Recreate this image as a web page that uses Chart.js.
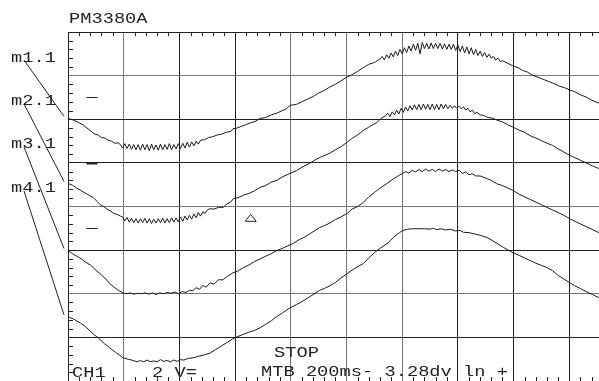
<!DOCTYPE html>
<html lang="en">
<head>
    <meta charset="UTF-8">
    <title>PM3380A</title>
    <style>
        body {
            margin: 0;
            background: #fff;
        }
        .screen {
            position: relative;
            width: 599px;
            height: 381px;
            overflow: hidden;
        }
        canvas {
            position: absolute;
            left: 0;
            top: 0;
        }
        .txt {
            position: absolute;
            font-family: "Liberation Mono", monospace;
            font-size: 14.5px;
            line-height: 14.5px;
            color: #222;
            white-space: pre;
            transform: scaleX(1.29); /* wide scope glyphs, ~11px per char */
            transform-origin: 0 0;
        }
    </style>
    <script src="https://cdn.jsdelivr.net/npm/chart.js"></script>
</head>
<body>
    <div class="screen">
        <canvas id="scope" width="640" height="400"></canvas>
        <div class="txt" style="left:69px; top:12px;">PM3380A</div>
        <div class="txt" style="left:11px; top:51px;">m1.1</div>
        <div class="txt" style="left:11px; top:94px;">m2.1</div>
        <div class="txt" style="left:11px; top:137px;">m3.1</div>
        <div class="txt" style="left:11px; top:181px;">m4.1</div>
        <div class="txt" style="left:274px; top:346px;">STOP</div>
        <div class="txt" style="left:72px; top:366px;">CH1</div>
        <div class="txt" style="left:152px; top:366px;">2 V=</div>
        <div class="txt" style="left:261px; top:365px;">MTB 200ms- 3.28dv ln +</div>
    </div>

    <script>
        // x in divisions (200 ms/div), y in divisions from screen centre
        const trace1 = [
            [0,2.02],[0.1,1.98],[0.2,1.92],[0.28,1.86],[0.36,1.78],[0.42,1.72],[0.48,1.66],[0.54,1.64],[0.6,1.58],[0.66,1.57],[0.72,1.52],[0.78,1.5],[0.84,1.45],[0.9,1.46],
            [0.94,1.42],[0.98,1.34],[1.02,1.44],[1.06,1.33],[1.1,1.43],[1.14,1.31],[1.18,1.42],[1.22,1.3],[1.26,1.42],[1.3,1.29],[1.34,1.43],[1.38,1.3],[1.42,1.42],[1.46,1.28],[1.5,1.43],[1.54,1.3],
            [1.58,1.41],[1.62,1.29],[1.66,1.43],[1.7,1.3],[1.74,1.42],[1.78,1.31],[1.82,1.44],[1.86,1.3],[1.9,1.42],[1.94,1.32],[1.98,1.44],[2.02,1.33],[2.06,1.45],[2.1,1.34],[2.14,1.47],[2.18,1.36],
            [2.22,1.48],[2.26,1.39],[2.3,1.5],[2.34,1.43],[2.38,1.52],[2.45,1.53],[2.52,1.58],[2.6,1.6],[2.68,1.64],[2.76,1.66],[2.84,1.7],[2.92,1.72],[2.96,1.78],[3.04,1.8],[3.12,1.84],[3.2,1.88],
            [3.28,1.92],[3.36,1.95],[3.45,2.02],[3.55,2.04],[3.65,2.1],[3.75,2.14],[3.85,2.2],[3.92,2.24],[3.99,2.32],[4.1,2.34],[4.2,2.4],[4.3,2.46],[4.4,2.52],[4.5,2.6],[4.6,2.66],[4.7,2.74],
            [4.8,2.8],[4.9,2.88],[5.01,2.97],[5.1,3.02],[5.2,3.1],[5.3,3.18],[5.4,3.26],[5.5,3.3],[5.6,3.38],
            [5.64,3.44],[5.68,3.36],[5.72,3.48],[5.76,3.4],[5.8,3.52],[5.84,3.43],[5.88,3.56],[5.92,3.46],[5.96,3.6],[6,3.5],[6.04,3.64],[6.08,3.53],[6.12,3.68],[6.16,3.56],[6.2,3.72],[6.24,3.58],
            [6.28,3.74],[6.32,3.5],[6.36,3.76],[6.4,3.62],[6.44,3.74],[6.48,3.61],[6.52,3.75],[6.56,3.62],[6.6,3.74],[6.64,3.62],[6.68,3.74],[6.72,3.61],[6.76,3.73],[6.8,3.6],[6.84,3.72],[6.88,3.6],
            [6.92,3.72],[6.96,3.58],[7,3.7],[7.04,3.55],[7.08,3.68],[7.12,3.52],[7.16,3.66],[7.2,3.5],[7.24,3.64],[7.28,3.48],[7.32,3.6],[7.36,3.46],[7.4,3.56],[7.44,3.44],[7.48,3.53],[7.52,3.42],
            [7.56,3.49],[7.6,3.4],[7.64,3.44],[7.68,3.36],[7.72,3.4],[7.76,3.32],[7.8,3.34],[7.9,3.28],[7.99,3.22],[8.08,3.18],[8.16,3.12],[8.25,3.08],[8.34,3.01],[8.42,2.97],[8.52,2.92],[8.62,2.87],
            [8.72,2.82],[8.82,2.76],[8.92,2.72],[9.01,2.67],[9.1,2.63],[9.2,2.56],[9.3,2.51],[9.4,2.44],[9.53,2.37],[9.65,2.31],[9.8,2.24],[10,2.16]
        ];
        const trace2 = [
            [0,0.53],[0.08,0.49],[0.16,0.42],[0.24,0.36],[0.32,0.3],[0.4,0.24],[0.45,0.21],[0.52,0.12],[0.58,0.04],[0.64,0],[0.7,-0.06],[0.76,-0.1],[0.82,-0.16],[0.88,-0.18],[0.94,-0.22],
            [0.98,-0.24],[1.02,-0.33],[1.06,-0.25],[1.1,-0.36],[1.14,-0.27],[1.18,-0.37],[1.22,-0.28],[1.26,-0.38],[1.3,-0.28],[1.34,-0.37],[1.38,-0.27],[1.42,-0.38],[1.46,-0.28],[1.5,-0.39],[1.54,-0.29],
            [1.58,-0.38],[1.62,-0.28],[1.66,-0.37],[1.7,-0.27],[1.74,-0.38],[1.78,-0.28],[1.82,-0.37],[1.86,-0.26],[1.9,-0.36],[1.94,-0.26],[1.98,-0.35],[2.02,-0.24],[2.06,-0.34],[2.1,-0.22],[2.14,-0.31],
            [2.18,-0.2],[2.22,-0.29],[2.26,-0.17],[2.3,-0.26],[2.34,-0.14],[2.38,-0.22],[2.42,-0.12],[2.46,-0.16],[2.5,-0.08],[2.55,-0.05],[2.62,-0.06],[2.7,-0.02],[2.79,-0.02],[2.85,0.06],[2.92,0.1],[2.97,0.18],
            [3.05,0.2],[3.15,0.26],[3.25,0.3],[3.35,0.36],[3.45,0.44],[3.55,0.48],[3.65,0.56],[3.75,0.6],[3.85,0.68],[3.99,0.76],[4.1,0.82],[4.2,0.9],[4.34,0.99],[4.45,1.08],[4.55,1.14],[4.7,1.22],
            [4.8,1.3],[4.9,1.37],[5.01,1.47],[5.1,1.56],[5.2,1.64],[5.3,1.74],[5.4,1.82],[5.55,1.93],[5.62,2.02],[5.7,2.08],
            [5.74,2.14],[5.78,2.06],[5.82,2.17],[5.86,2.1],[5.9,2.21],[5.94,2.12],[5.98,2.25],[6.02,2.16],[6.06,2.28],[6.1,2.19],[6.14,2.31],[6.18,2.21],[6.22,2.33],[6.26,2.22],[6.3,2.34],[6.34,2.22],
            [6.38,2.35],[6.42,2.23],[6.46,2.34],[6.5,2.22],[6.54,2.35],[6.58,2.22],[6.62,2.34],[6.66,2.22],[6.7,2.35],[6.74,2.24],[6.78,2.34],[6.82,2.24],[6.86,2.32],[6.9,2.25],[6.94,2.31],[6.98,2.25],
            [7.02,2.3],[7.06,2.24],[7.1,2.28],[7.14,2.21],[7.18,2.25],[7.22,2.17],[7.26,2.21],[7.3,2.13],[7.34,2.16],[7.4,2.1],[7.46,2.09],[7.52,2.05],[7.63,2.02],[7.72,1.97],[7.8,1.94],[7.9,1.87],
            [7.99,1.82],[8.1,1.75],[8.2,1.7],[8.3,1.62],[8.4,1.57],[8.5,1.51],[8.6,1.45],[8.7,1.4],[8.8,1.32],[8.9,1.25],[9.01,1.17],[9.1,1.12],[9.2,1.06],[9.3,1],[9.42,0.93],[9.53,0.87],[9.7,0.78],[10,0.62]
        ];
        const trace3 = [
            [0,-1.01],[0.08,-1.08],[0.16,-1.14],[0.24,-1.2],[0.32,-1.28],[0.4,-1.34],[0.45,-1.4],[0.52,-1.48],[0.6,-1.57],[0.68,-1.66],[0.75,-1.77],[0.82,-1.84],[0.9,-1.92],[0.99,-1.98],
            [1.05,-2],[1.12,-1.98],[1.18,-2.01],[1.25,-1.99],[1.32,-2],[1.38,-1.98],[1.45,-2.01],[1.52,-1.98],[1.58,-2.02],[1.65,-1.98],[1.72,-2],[1.78,-1.97],[1.85,-1.99],[1.92,-1.96],[1.98,-2],
            [2.05,-1.95],[2.12,-1.97],[2.18,-1.92],[2.24,-1.93],[2.3,-1.86],[2.36,-1.9],[2.42,-1.81],[2.48,-1.85],[2.55,-1.75],[2.62,-1.78],[2.7,-1.68],[2.78,-1.68],[2.86,-1.6],[2.96,-1.52],[3.05,-1.48],
            [3.15,-1.4],[3.25,-1.34],[3.35,-1.26],[3.45,-1.2],[3.55,-1.14],[3.65,-1.08],[3.75,-1.01],[3.85,-0.96],[3.95,-0.9],[4.04,-0.85],[4.15,-0.76],[4.25,-0.7],[4.35,-0.62],[4.52,-0.48],[4.6,-0.44],
            [4.7,-0.38],[4.8,-0.3],[4.9,-0.24],[5.01,-0.16],[5.1,-0.06],[5.2,0],[5.3,0.09],[5.4,0.22],[5.5,0.32],[5.6,0.42],[5.73,0.53],[5.85,0.64],[5.95,0.72],[6.01,0.76],
            [6.06,0.8],[6.12,0.77],[6.18,0.83],[6.24,0.79],[6.3,0.85],[6.36,0.8],[6.42,0.86],[6.48,0.81],[6.54,0.85],[6.6,0.8],[6.66,0.86],[6.72,0.81],[6.78,0.85],[6.84,0.8],[6.9,0.84],[6.96,0.8],
            [7.02,0.83],[7.08,0.76],[7.14,0.79],[7.2,0.73],[7.26,0.75],[7.32,0.7],[7.4,0.7],[7.52,0.64],[7.6,0.6],[7.7,0.52],[7.8,0.48],[7.9,0.42],[7.99,0.37],[8.1,0.28],[8.2,0.22],[8.3,0.16],
            [8.4,0.1],[8.5,0.04],[8.6,-0.02],[8.7,-0.08],[8.8,-0.14],[8.9,-0.2],[9.01,-0.28],[9.1,-0.34],[9.2,-0.4],[9.3,-0.46],[9.42,-0.53],[9.53,-0.6],[9.7,-0.7],[10,-0.88]
        ];
        const trace4 = [
            [0,-2.53],[0.1,-2.58],[0.22,-2.67],[0.32,-2.76],[0.45,-2.92],[0.55,-3.02],[0.65,-3.14],[0.75,-3.24],[0.85,-3.34],[0.92,-3.4],[0.99,-3.47],[1.08,-3.5],[1.17,-3.53],
            [1.24,-3.56],[1.3,-3.53],[1.36,-3.56],[1.42,-3.52],[1.48,-3.56],[1.54,-3.54],[1.6,-3.56],[1.66,-3.51],[1.72,-3.55],[1.78,-3.53],[1.84,-3.56],[1.9,-3.52],[1.96,-3.55],[2.02,-3.51],[2.08,-3.52],
            [2.16,-3.48],[2.24,-3.47],[2.35,-3.43],[2.45,-3.4],[2.55,-3.36],[2.65,-3.28],[2.75,-3.2],[2.85,-3.12],[2.96,-3.03],[3.05,-2.98],[3.15,-2.93],[3.25,-2.88],[3.35,-2.84],[3.45,-2.78],[3.55,-2.7],
            [3.65,-2.62],[3.75,-2.52],[3.85,-2.44],[3.99,-2.32],[4.1,-2.25],[4.2,-2.18],[4.3,-2.1],[4.4,-2.02],[4.52,-1.92],[4.6,-1.88],[4.7,-1.82],[4.8,-1.74],[4.9,-1.64],[5.01,-1.54],[5.1,-1.46],
            [5.2,-1.38],[5.3,-1.31],[5.4,-1.18],[5.5,-1.06],[5.6,-0.96],[5.73,-0.85],[5.85,-0.7],[5.95,-0.6],[6.01,-0.55],[6.1,-0.52],[6.19,-0.51],[6.3,-0.51],[6.4,-0.51],[6.5,-0.52],[6.56,-0.5],
            [6.62,-0.53],[6.7,-0.51],[6.78,-0.54],[6.86,-0.52],[6.95,-0.56],[7.04,-0.55],[7.1,-0.59],[7.2,-0.6],[7.3,-0.63],[7.4,-0.66],[7.52,-0.71],[7.62,-0.78],[7.72,-0.86],[7.82,-0.94],[7.92,-1.01],
            [7.99,-1.06],[8.1,-1.12],[8.2,-1.18],[8.3,-1.24],[8.4,-1.3],[8.5,-1.35],[8.6,-1.4],[8.7,-1.47],[8.8,-1.58],[8.9,-1.66],[9.01,-1.75],[9.1,-1.82],[9.2,-1.88],[9.3,-1.95],[9.42,-2.02],
            [9.53,-2.09],[9.7,-2.18],[10,-2.36]
        ];
        const traces = [trace1, trace2, trace3, trace4];
        const groundLevels = [2.5, 1.0, -0.5];   // channel ground markers
        const triggerDelay = 3.28;                // divisions
        const triggerLevel = -0.26;

        // graticule lines that came out lighter on the screenshot
        const lightX = [1, 4, 5, 6];
        const lightY = [3, 0, -2];

        // where each label's leader line begins (next to the text)
        const leaderStarts = [[24, 60], [24, 104], [24, 147], [24, 191]];

        const scopeOverlay = {
            id: 'scopeOverlay',
            afterDraw(chart) {
                const { ctx, chartArea: a, scales: { x, y } } = chart;
                ctx.save();
                ctx.strokeStyle = '#222';
                ctx.lineWidth = 1;

                // small ticks on the graticule edges, 5 per division
                ctx.beginPath();
                for (let i = 1; i < 50; i++) {
                    if (i % 5 === 0) continue;
                    const px = Math.round(x.getPixelForValue(i / 5)) + 0.5;
                    ctx.moveTo(px, a.top);
                    ctx.lineTo(px, a.top + 4);
                    ctx.moveTo(px, a.bottom);
                    ctx.lineTo(px, a.bottom - 4);
                }
                for (let i = 1; i < 40; i++) {
                    if (i % 5 === 0) continue;
                    const py = Math.round(y.getPixelForValue(-4 + i / 5)) + 0.5;
                    ctx.moveTo(a.left, py);
                    ctx.lineTo(a.left + 5, py);
                }
                ctx.stroke();

                // leader lines from the trace names to the trace starts
                ctx.beginPath();
                traces.forEach((t, i) => {
                    ctx.moveTo(leaderStarts[i][0], leaderStarts[i][1]);
                    ctx.lineTo(a.left - 4, y.getPixelForValue(t[0][1]) - 2);
                });
                ctx.stroke();

                // ground level markers
                groundLevels.forEach((g, i) => {
                    const py = Math.round(y.getPixelForValue(g)) + 0.5;
                    ctx.lineWidth = i === 1 ? 2 : 1;
                    ctx.beginPath();
                    ctx.moveTo(x.getPixelForValue(0.33), py);
                    ctx.lineTo(x.getPixelForValue(0.53), py);
                    ctx.stroke();
                });

                // trigger marker
                const tx = x.getPixelForValue(triggerDelay);
                const ty = y.getPixelForValue(triggerLevel);
                ctx.lineWidth = 1;
                ctx.beginPath();
                ctx.moveTo(tx, ty - 3.5);
                ctx.lineTo(tx + 5.5, ty + 3.5);
                ctx.lineTo(tx - 5.5, ty + 3.5);
                ctx.closePath();
                ctx.stroke();
                ctx.restore();
            }
        };

        new Chart(document.getElementById('scope'), {
            type: 'line',
            data: {
                datasets: traces.map((t, i) => ({
                    label: 'm' + (i + 1) + '.1',
                    data: t.map(p => ({ x: p[0], y: p[1] })),
                    borderColor: '#1a1a1a',
                    borderWidth: 1,
                    pointRadius: 0,
                    tension: 0,
                    fill: false
                }))
            },
            options: {
                responsive: false,
                devicePixelRatio: 1,
                animation: false,
                layout: { padding: { left: 68, top: 32, right: 15, bottom: 19 } },
                plugins: { legend: { display: false }, tooltip: { enabled: false } },
                scales: {
                    x: {
                        type: 'linear', min: 0, max: 10,
                        ticks: { display: false, stepSize: 1 },
                        grid: {
                            color: c => lightX.includes(c.tick && c.tick.value) ? '#777' : '#222',
                            lineWidth: 1,
                            drawTicks: false
                        },
                        border: { color: '#222' }
                    },
                    y: {
                        type: 'linear', min: -4, max: 4,
                        ticks: { display: false, stepSize: 1 },
                        grid: {
                            color: c => lightY.includes(c.tick && c.tick.value) ? '#777' : '#222',
                            lineWidth: 1,
                            drawTicks: false
                        },
                        border: { color: '#222' }
                    }
                }
            },
            plugins: [scopeOverlay]
        });
    </script>
</body>
</html>
